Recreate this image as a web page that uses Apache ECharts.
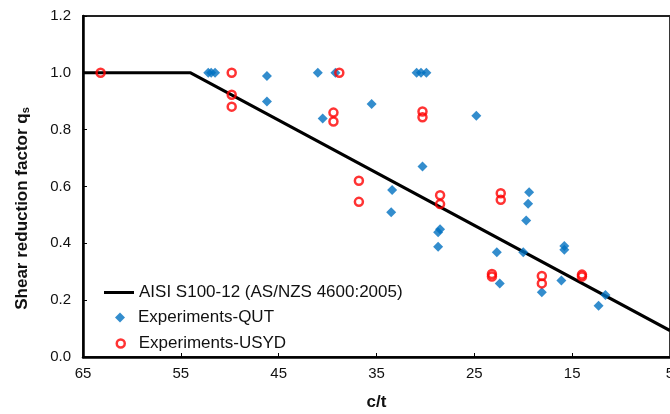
<!DOCTYPE html>
<html>
<head>
<meta charset="utf-8">
<script src="https://cdn.jsdelivr.net/npm/echarts@6/dist/echarts.min.js"></script>
<style>
html,body{margin:0;padding:0;background:#fff;}
#chart{width:670px;height:414px;}
</style>
</head>
<body>
<div id="chart"></div>
<script>
// AISI S100-12 (AS/NZS 4600:2005) design curve
const aisiX = [65, 54, 5];
const aisiY = [1.0, 1.0, 0.093];

// Experiments-QUT (c/t, qs)
const qutX = [52.2, 51.9, 51.5, 46.2, 46.2, 41.0, 39.2, 40.5, 35.5, 30.9, 30.45, 29.9, 24.8, 30.3, 33.4, 33.5, 28.5, 28.7, 28.7, 19.4, 19.5, 19.7, 22.7, 20.0, 22.4, 18.1, 15.8, 15.8, 16.1, 11.6, 12.3];
const qutY = [1.0, 1.0, 1.0, 0.989, 0.899, 1.0, 1.0, 0.839, 0.890, 1.0, 1.0, 1.0, 0.849, 0.670, 0.588, 0.509, 0.450, 0.439, 0.388, 0.580, 0.539, 0.480, 0.369, 0.369, 0.259, 0.228, 0.391, 0.377, 0.269, 0.218, 0.180];

// Experiments-USYD (c/t, qs)
const usydX = [63.2, 49.8, 49.8, 49.8, 38.8, 39.4, 39.4, 30.3, 30.3, 36.8, 36.8, 28.5, 28.5, 22.3, 22.3, 23.2, 23.2, 18.1, 18.1, 14.0, 14.0];
const usydY = [1.0, 1.0, 0.923, 0.881, 1.0, 0.860, 0.829, 0.864, 0.844, 0.620, 0.546, 0.569, 0.538, 0.576, 0.553, 0.292, 0.283, 0.285, 0.259, 0.290, 0.283];

// Axis ticks
const xTicks = [65, 55, 45, 35, 25, 15, 5];
const yTicks = [0.0, 0.2, 0.4, 0.6, 0.8, 1.0, 1.2];

const names = ['AISI S100-12 (AS/NZS 4600:2005)', 'Experiments-QUT', 'Experiments-USYD'];

const zip = (xs, ys) => xs.map((x, i) => [x, ys[i]]);
const FONT = 'Liberation Sans, Arial, sans-serif';

const chart = echarts.init(document.getElementById('chart'), null, {renderer: 'canvas'});
const legendText = {fontFamily: FONT, fontSize: 17, color: '#111'};

chart.setOption({
  backgroundColor: '#fff',
  animation: false,
  grid: {
    left: 83, right: 0, top: 16, bottom: 57,
    outerBoundsMode: 'none', containLabel: false,
    show: true, borderColor: '#222', borderWidth: 1.8, backgroundColor: 'transparent'
  },
  legend: [
    {
      data: [{name: names[0], icon: 'rect', itemStyle: {color: '#000'}}], left: 99, top: 279, orient: 'vertical',
      itemWidth: 30, itemHeight: 3, textStyle: legendText, selectedMode: false
    },
    {
      data: [{name: names[1], icon: 'diamond'}], left: 110, top: 304, orient: 'vertical',
      itemWidth: 10, itemHeight: 10, textStyle: Object.assign({padding: [0, 0, 0, 8]}, legendText), selectedMode: false
    },
    {
      data: [{name: names[2], icon: 'circle', itemStyle: {color: 'rgba(0,0,0,0)', borderColor: '#FF0000', borderWidth: 2.5}}],
      left: 110.5, top: 330, orient: 'vertical',
      itemWidth: 8, itemHeight: 8, textStyle: Object.assign({padding: [0, 0, 0, 9]}, legendText), selectedMode: false
    }
  ],
  xAxis: {
    type: 'value', inverse: true, min: xTicks[xTicks.length - 1], max: xTicks[0], interval: 10,
    name: 'c/t', nameLocation: 'middle', nameGap: 37,
    nameTextStyle: {fontFamily: FONT, fontSize: 17, fontWeight: 'bold', color: '#111'},
    axisLine: {show: true, onZero: false, lineStyle: {color: '#000', width: 2.5}},
    axisTick: {show: true, inside: true, length: 4, lineStyle: {color: '#000', width: 1}},
    axisLabel: {fontFamily: FONT, fontSize: 15, color: '#111', margin: 9, showMaxLabel: true, showMinLabel: true},
    splitLine: {show: false}
  },
  yAxis: {
    type: 'value', min: yTicks[0], max: yTicks[yTicks.length - 1], interval: 0.2,
    name: 'Shear reduction factor q{sub|s}', nameLocation: 'middle', nameGap: 52,
    nameTextStyle: {
      fontFamily: FONT, fontSize: 17, fontWeight: 'bold', color: '#111', padding: [0, 44, 0, 0],
      rich: {sub: {fontFamily: FONT, fontSize: 11, fontWeight: 'bold', color: '#111', verticalAlign: 'bottom', padding: [6, 0, 0, 0]}}
    },
    axisLine: {show: true, onZero: false, lineStyle: {color: '#000', width: 2.5}},
    axisTick: {show: true, inside: true, length: 4, lineStyle: {color: '#000', width: 1}},
    axisLabel: {fontFamily: FONT, fontSize: 15, color: '#111', margin: 12, formatter: v => v.toFixed(1)},
    splitLine: {show: false}
  },
  series: [
    {
      name: names[0], type: 'line', data: zip(aisiX, aisiY),
      symbol: 'none', lineStyle: {color: '#000', width: 3}, itemStyle: {color: '#000'}, z: 2
    },
    {
      name: names[1], type: 'scatter', data: zip(qutX, qutY),
      symbol: 'diamond', symbolSize: 10, itemStyle: {color: '#0070C0'}, z: 3
    },
    {
      name: names[2], type: 'scatter', data: zip(usydX, usydY),
      symbol: 'circle', symbolSize: 8,
      itemStyle: {color: 'rgba(0,0,0,0)', borderColor: '#FF0000', borderWidth: 2.5}, z: 4
    }
  ]
});
</script>
</body>
</html>
